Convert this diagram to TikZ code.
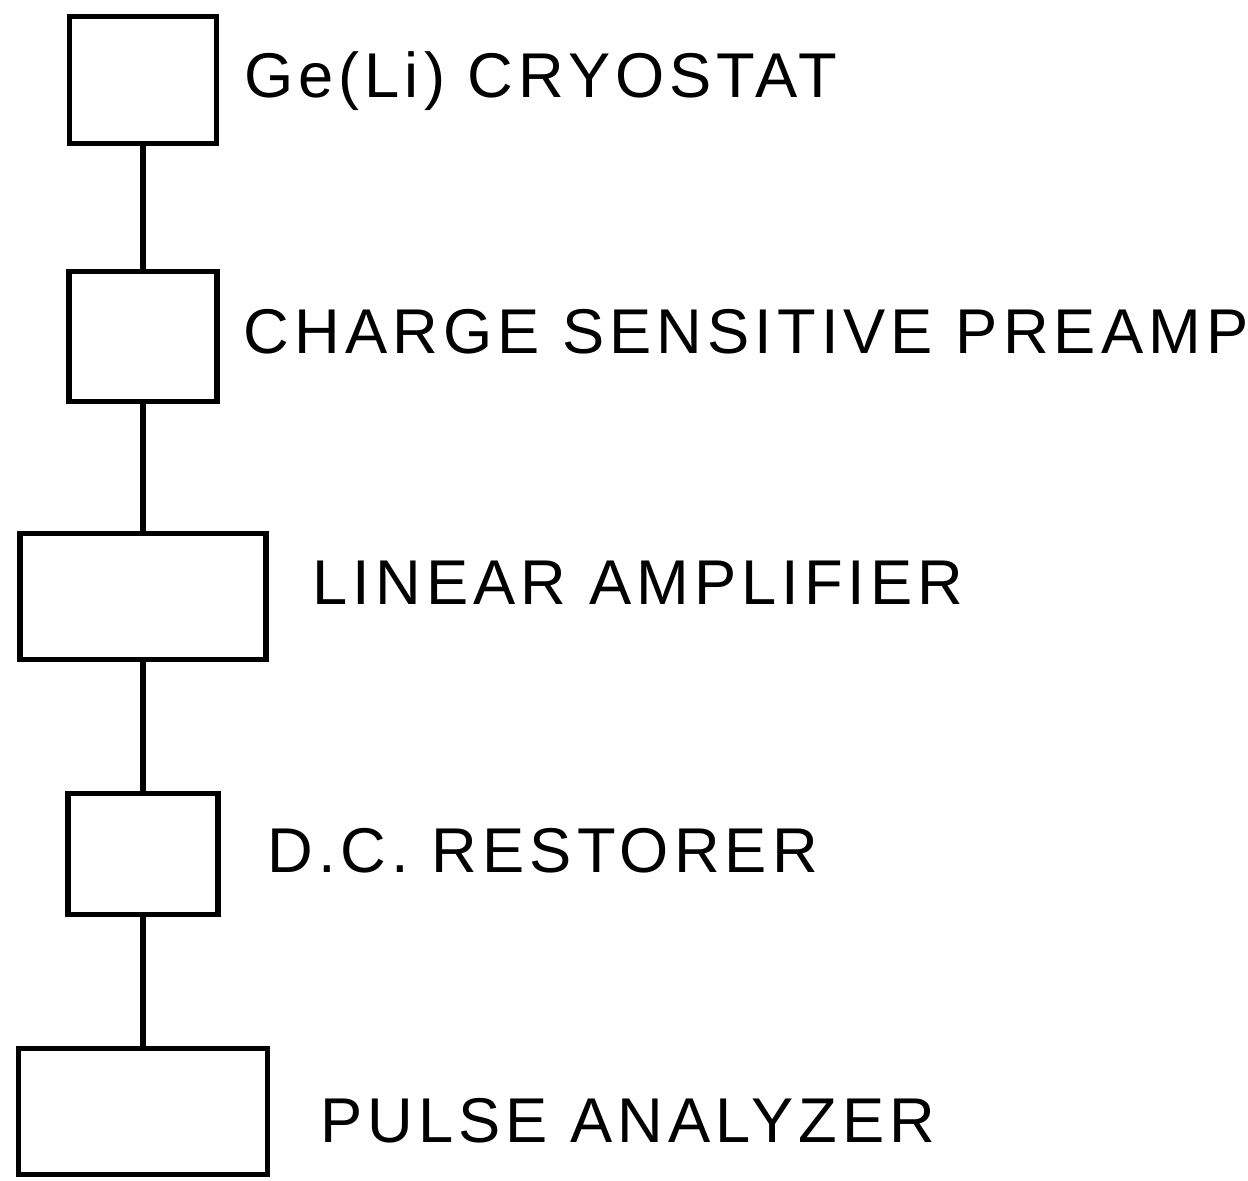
\documentclass[tikz,border=0pt]{standalone}
\usepackage{fontspec}
\usepackage{tikz}
\usetikzlibrary{positioning}
\newfontfamily\lblfont[LetterSpace=8]{Liberation Sans}

\begin{document}
\begin{tikzpicture}[
  x=0.2mm, y=-0.2mm,
  box/.style={draw, line width=3.2pt, inner sep=0pt},
  lbl/.style={inner sep=0pt, anchor=west, text height=25.8pt, text depth=0pt,
    font=\lblfont\fontsize{36}{40}\selectfont},
  conn/.style={line width=3.2pt},
]
  \useasboundingbox (0,0) rectangle (1248,1180);
  % blocks of the chain, top to bottom
  \node[box, minimum width=29.4mm, minimum height=25.4mm] (cryo) at (143,80) {};
  \node[box, minimum width=29.6mm, minimum height=26mm] (preamp) at (143,336.5) {};
  \node[box, minimum width=49.2mm, minimum height=25.2mm] (linamp) at (143,596.5) {};
  \node[box, minimum width=30mm, minimum height=24.2mm] (dcrest) at (143,854) {};
  \node[box, minimum width=49.8mm, minimum height=25.2mm] (pha) at (143,1111.5) {};
  % labels
  \node[lbl, right=4.9mm of cryo, yshift=1.1mm] (cryolbl) {Ge(Li) CRYOSTAT};
  \node[lbl, right=4.7mm of preamp, yshift=1.1mm] (preamplbl) {CHARGE SENSITIVE PREAMP};
  \node[lbl, right=8.7mm of linamp, yshift=3mm] (linamplbl) {LINEAR AMPLIFIER};
  \node[lbl, right=9.3mm of dcrest, yshift=0.9mm] (dcrestlbl) {D.C. RESTORER};
  \node[lbl, right=9.9mm of pha, yshift=-1.6mm] (phalbl) {PULSE ANALYZER};
  % connections
  \draw[conn] (cryo.south) -- (preamp.north);
  \draw[conn] (preamp.south) -- (linamp.north);
  \draw[conn] (linamp.south) -- (dcrest.north);
  \draw[conn] (dcrest.south) -- (pha.north);
\end{tikzpicture}
\end{document}
